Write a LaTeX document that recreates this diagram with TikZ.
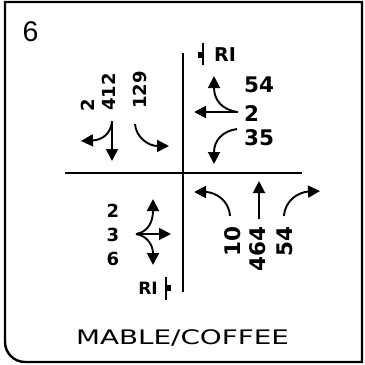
\documentclass[tikz,border=0pt]{standalone}
\usepackage{fontspec}
\setmainfont{DejaVu Sans}
\newfontfamily\sixfont{Liberation Sans}
\usetikzlibrary{arrows.meta}
\begin{document}
\begin{tikzpicture}[x=1pt,y=-1pt,
  num/.style={inner sep=0pt,font=\bfseries\fontsize{18}{18}\selectfont},
  bignum/.style={inner sep=0pt,font=\bfseries\fontsize{21.5}{21.5}\selectfont},
  mv/.style={line width=1.9pt,-{Triangle[length=12pt,width=12pt]}},
  road/.style={line width=2pt},
  tick/.style={line width=1.5pt}]
\useasboundingbox (0,0) rectangle (365,365);
% frame
\draw[line width=2.4pt] (362,2) -- (5,2) -- (5,342) .. controls (5,353) and (14,362) .. (25,362) -- (362,362) -- cycle;
% title and number
\node[inner sep=0pt,font=\sixfont\fontsize{28.5}{28.5}\selectfont] (six) at (30.5,32) {6};
\node[inner sep=0pt,font=\fontsize{20}{20}\selectfont] (title) at (182.5,338) {\scalebox{1.39}[1]{MABLE/COFFEE}};
% roads
\coordinate (hl) at (65,173);
\coordinate (hr) at (302,173);
\coordinate (vt) at (183,53);
\coordinate (vb) at (183,292);
\draw[road] (hl) -- (hr);
\draw[line width=1.5pt] (vt) -- (vb);
% RI marks
\coordinate (t1) at (203,43);
\coordinate (t2) at (203,65);
\draw[tick] (t1) -- (t2);
\fill (198,52) rectangle (202,58);
\node[inner sep=0pt,anchor=west,font=\bfseries\fontsize{19}{19}\selectfont] (ri1) at (214,55) {RI};
\coordinate (b1) at (166,277);
\coordinate (b2) at (166,300);
\draw[tick] (b1) -- (b2);
\fill (167,285) rectangle (171,291);
\node[inner sep=0pt,anchor=east,font=\bfseries\fontsize{17}{17}\selectfont] (ri2) at (158,288) {RI};
% top-left (southbound)
\node[num,rotate=90,anchor=west] (s2) at (88,112) {2};
\node[num,rotate=90,anchor=west] (s412) at (109,111) {412};
\node[num,rotate=90,anchor=west] (s129) at (140,109) {129};
\coordinate (s0) at (112,121);
\coordinate (s1) at (135,124);
\coordinate (sL) at (81,141);
\coordinate (sS) at (112,161);
\coordinate (sR) at (169,146);
\draw[mv] (s0) -- (sS);
\draw[mv] (s0) .. controls (111,134) and (102,140) .. (sL);
\draw[mv] (s1) .. controls (136,137) and (148,146) .. (sR);
% top-right (westbound)
\node[bignum,anchor=west] (w54) at (244,85) {54};
\node[bignum,anchor=west] (w2) at (244,114) {2};
\node[bignum,anchor=west] (w35) at (244,138) {35};
\coordinate (w0) at (238,112);
\coordinate (wS) at (194,112);
\coordinate (wN) at (214,76);
\coordinate (w1) at (237,129);
\coordinate (wD) at (214,164);
\draw[mv] (w0) -- (wS);
\draw[mv] (w0) .. controls (222,110) and (214,100) .. (wN);
\draw[mv] (w1) .. controls (223,131) and (214,140) .. (wD);
% bottom-left (eastbound)
\node[num] (e2) at (113,211) {2};
\node[num] (e3) at (113,235) {3};
\node[num] (e6) at (113,259) {6};
\coordinate (e0) at (136,234);
\coordinate (eN) at (153,199);
\coordinate (eE) at (171,234);
\coordinate (eS) at (153,265);
\draw[mv] (e0) -- (eE);
\draw[mv] (e0) .. controls (148,232) and (153,222) .. (eN);
\draw[mv] (e0) .. controls (148,236) and (153,246) .. (eS);
% bottom-right (northbound)
\node[bignum,rotate=90,anchor=east] (n10) at (233,226) {10};
\node[bignum,rotate=90,anchor=east] (n464) at (258,226) {464};
\node[bignum,rotate=90,anchor=east] (n54) at (285,226) {54};
\coordinate (n1) at (230,216);
\coordinate (n2) at (259,219);
\coordinate (n3) at (284,216);
\coordinate (nL) at (194,192);
\coordinate (nS) at (259,181);
\coordinate (nR) at (320,191);
\draw[mv] (n1) .. controls (229,200) and (215,192) .. (nL);
\draw[mv] (n2) -- (nS);
\draw[mv] (n3) .. controls (285,200) and (299,192) .. (nR);
\end{tikzpicture}
\end{document}
